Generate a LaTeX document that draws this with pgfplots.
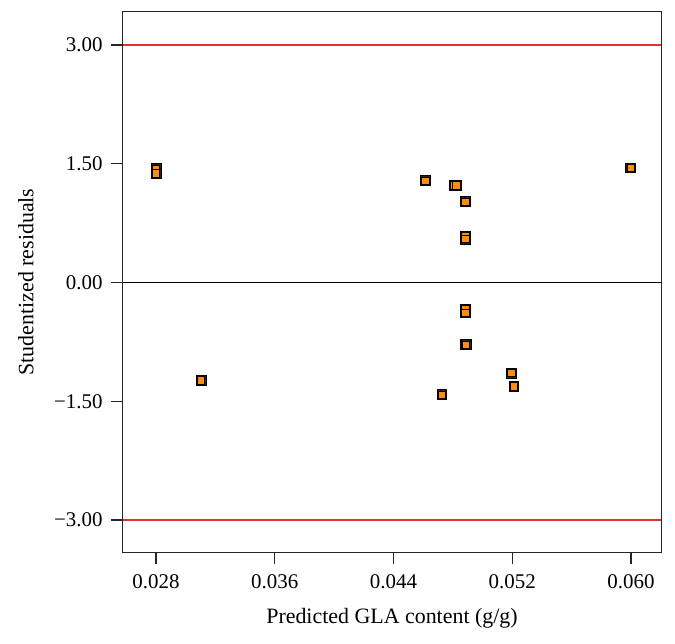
\documentclass[border=0pt]{standalone}
\usepackage{pgfplots}
\usepackage{pgfplotstable}
\pgfplotsset{compat=1.18}
\usepackage{fontspec}
\setmainfont{Liberation Serif}
\definecolor{mkfill}{RGB}{255,140,10}
\definecolor{mkdraw}{RGB}{50,30,20}
\definecolor{refred}{RGB}{225,50,50}
\pgfplotstableread{
x y
0.02800 1.44
0.02800 1.38
0.03103 -1.234
0.04614 1.288
0.04810 1.229
0.04822 1.229
0.04884 1.023
0.04884 0.590
0.04884 0.552
0.04884 -0.335
0.04884 -0.380
0.04880 -0.783
0.04888 -0.783
0.05192 -1.141
0.05210 -1.310
0.04725 -1.415
0.05997 1.449
}\resid
\begin{document}
\begin{tikzpicture}
\begin{axis}[
  scale only axis,
  width=538bp, height=540bp,
  xmin=0.02578, xmax=0.06202,
  ymin=-3.404, ymax=3.417,
  scaled x ticks=false, scaled y ticks=false,
  axis line style={line width=1pt, black!85},
  xtick={0.028,0.036,0.044,0.052,0.060},
  xticklabels={0.028,0.036,0.044,0.052,0.060},
  ytick={-3,-1.5,0,1.5,3},
  yticklabels={−3.00,−1.50,0.00,1.50,3.00},
  tick align=outside,
  tick pos=left,
  major tick length=12bp,
  major tick style={black!85, line width=1.3pt},
  ticklabel style={font=\fontsize{21}{24}\selectfont},
  xticklabel style={yshift=-7bp},
  yticklabel style={xshift=-5bp},
  xlabel={Predicted GLA content (g/g)},
  ylabel={Studentized residuals},
  every axis x label/.style={at={(axis description cs:0.5,0)}, yshift=-66bp, anchor=center, font=\fontsize{22}{26}\selectfont},
  every axis y label/.style={at={(axis description cs:0,0.5)}, xshift=-97bp, rotate=90, anchor=center, font=\fontsize{22}{26}\selectfont},
]
\addplot[refred, line width=1.1pt, forget plot] coordinates {(0.02578,3) (0.06202,3)};
\addplot[refred, line width=1.1pt, forget plot] coordinates {(0.02578,-3) (0.06202,-3)};
\addplot[black, line width=1.1pt, forget plot] coordinates {(0.02578,0) (0.06202,0)};
\addplot[only marks, mark=square*, mark size=4.9bp,
  mark options={fill=mkdraw, draw=none}] table[x=x,y=y] {\resid};
\addplot[only marks, mark=square*, mark size=3.7bp,
  mark options={fill=mkfill, draw=none}] table[x=x,y=y] {\resid};
\end{axis}
\path[use as bounding box] ([xshift=-123bp,yshift=-92bp]current axis.south west) rectangle ([xshift=14bp,yshift=12bp]current axis.north east);
\end{tikzpicture}
\end{document}
